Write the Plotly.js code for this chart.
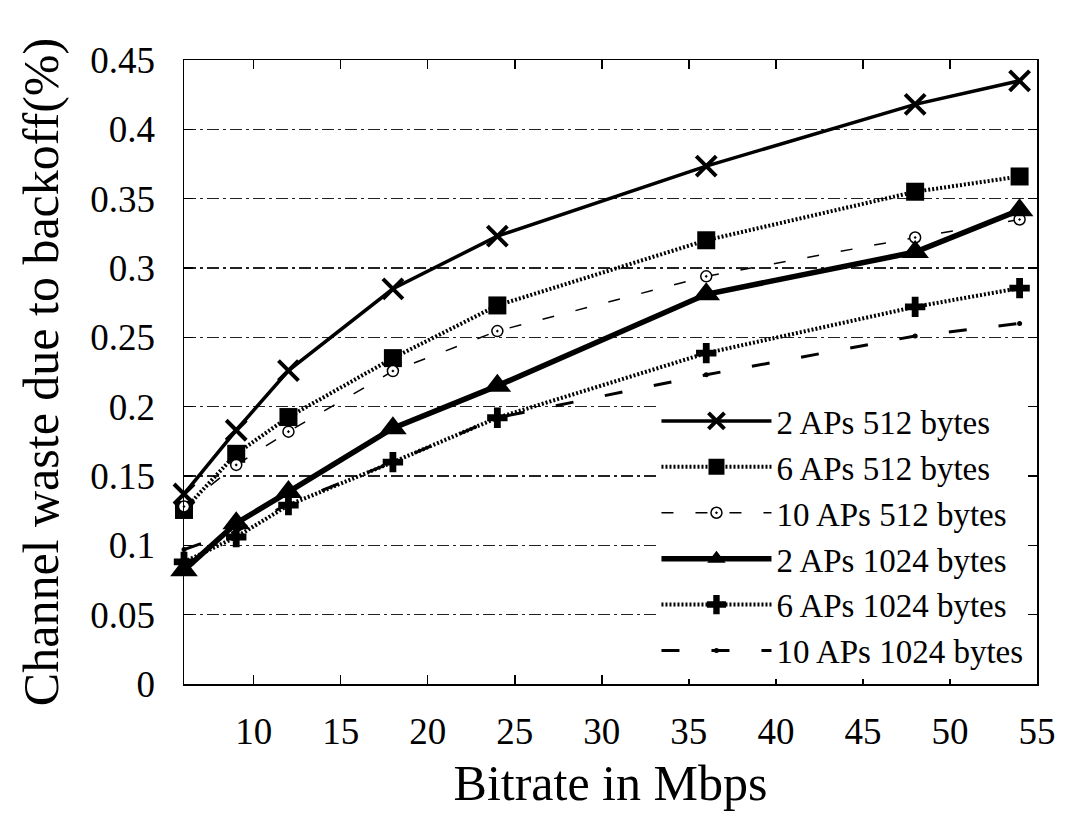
<!DOCTYPE html>
<html>
<head>
<meta charset="utf-8">
<script src="https://cdn.plot.ly/plotly-3.0.1.min.js"></script>
<style>html,body{margin:0;padding:0;background:#fff;}#chart{width:1068px;height:817px;}</style>
</head>
<body>
<div id="chart"></div>
<script>
const bitrates = [6, 9, 12, 18, 24, 36, 48, 54];
const seriesNames = ["2 APs 512 bytes", "6 APs 512 bytes", "10 APs 512 bytes", "2 APs 1024 bytes", "6 APs 1024 bytes", "10 APs 1024 bytes"];
const aps2_512  = [0.137, 0.183, 0.226, 0.285, 0.323, 0.3735, 0.418, 0.435];
const aps6_512  = [0.1255, 0.166, 0.1925, 0.235, 0.273, 0.320, 0.355, 0.366];
const aps10_512 = [0.128, 0.158, 0.182, 0.2257, 0.2545, 0.294, 0.322, 0.335];
const aps2_1024 = [0.082, 0.116, 0.1385, 0.1845, 0.215, 0.281, 0.3115, 0.3417];
const aps6_1024 = [0.088, 0.106, 0.129, 0.160, 0.192, 0.2386, 0.272, 0.2855];
const aps10_1024 = [0.097, 0.11, 0.13, 0.16, 0.192, 0.223, 0.251, 0.260];
const xTicks = [10, 15, 20, 25, 30, 35, 40, 45, 50, 55];
const yTicks = [0, 0.05, 0.1, 0.15, 0.2, 0.25, 0.3, 0.35, 0.4, 0.45];

const styles = [
  {line: {color: '#000', width: 3.5, dash: 'solid'}, marker: {symbol: 'x-thin-open', size: 20, line: {width: 4, color: '#000'}, color: '#000'}},
  {line: {color: '#000', width: 4, dash: '2px,2px'}, marker: {symbol: 'square', size: 18, color: '#000'}},
  {line: {color: '#000', width: 1.5, dash: '12px,22px'}, marker: {symbol: 'circle-dot', size: 11, color: '#fff', line: {width: 1.5, color: '#000'}}},
  {line: {color: '#000', width: 5.5, dash: 'solid'}, marker: {symbol: 'triangle-up', size: 24, color: '#000'}},
  {line: {color: '#000', width: 4, dash: '2px,2px'}, marker: {symbol: 'cross', size: 17, color: '#000'}},
  {line: {color: '#000', width: 3, dash: '18px,32px'}, marker: {symbol: 'circle', size: 5, color: '#000'}}
];
const seriesData = [aps2_512, aps6_512, aps10_512, aps2_1024, aps6_1024, aps10_1024];

const traces = seriesData.map((ys, i) => ({
  x: bitrates, y: ys, name: seriesNames[i], type: 'scatter', mode: 'lines+markers',
  line: styles[i].line, marker: styles[i].marker, cliponaxis: false
}));

const font = 'Liberation Serif, Times New Roman, serif';
const layout = {
  width: 1068, height: 817,
  paper_bgcolor: '#fff', plot_bgcolor: '#fff',
  margin: {l: 184, r: 31, t: 60, b: 133},
  font: {family: font, color: '#000'},
  showlegend: true,
  legend: {
    x: 0.99, y: 0.008, xanchor: 'right', yanchor: 'bottom',
    bgcolor: '#fff', borderwidth: 0,
    font: {family: font, size: 33, color: '#000'},
    itemwidth: 110, tracegroupgap: 0
  },
  xaxis: {
    range: [6, 55], tickvals: xTicks, ticktext: xTicks.map(String),
    ticks: 'inside', ticklen: 9, tickwidth: 1.5, tickcolor: '#000',
    showline: true, linecolor: '#000', linewidth: 1.5, mirror: 'ticks',
    showgrid: false, zeroline: false, ticklabelstandoff: 14,
    tickfont: {family: font, size: 37, color: '#000'},
    title: {text: 'Bitrate in Mbps', font: {family: font, size: 50, color: '#000'}, standoff: 14}
  },
  yaxis: {
    range: [0, 0.45], tickvals: yTicks, ticktext: yTicks.map(String),
    ticks: 'inside', ticklen: 9, tickwidth: 1.5, tickcolor: '#000',
    showline: true, linecolor: '#000', linewidth: 1.5, mirror: 'ticks',
    showgrid: true, gridcolor: '#222', gridwidth: 1.5, griddash: '12px,4px,3px,4px',
    zeroline: false, ticklabelstandoff: 20,
    tickfont: {family: font, size: 37, color: '#000'},
    title: {text: 'Channel waste due to backoff(%)', font: {family: font, size: 50, color: '#000'}, standoff: 16}
  }
};

Plotly.newPlot('chart', traces, layout, {displayModeBar: false, staticPlot: true});
</script>
</body>
</html>
